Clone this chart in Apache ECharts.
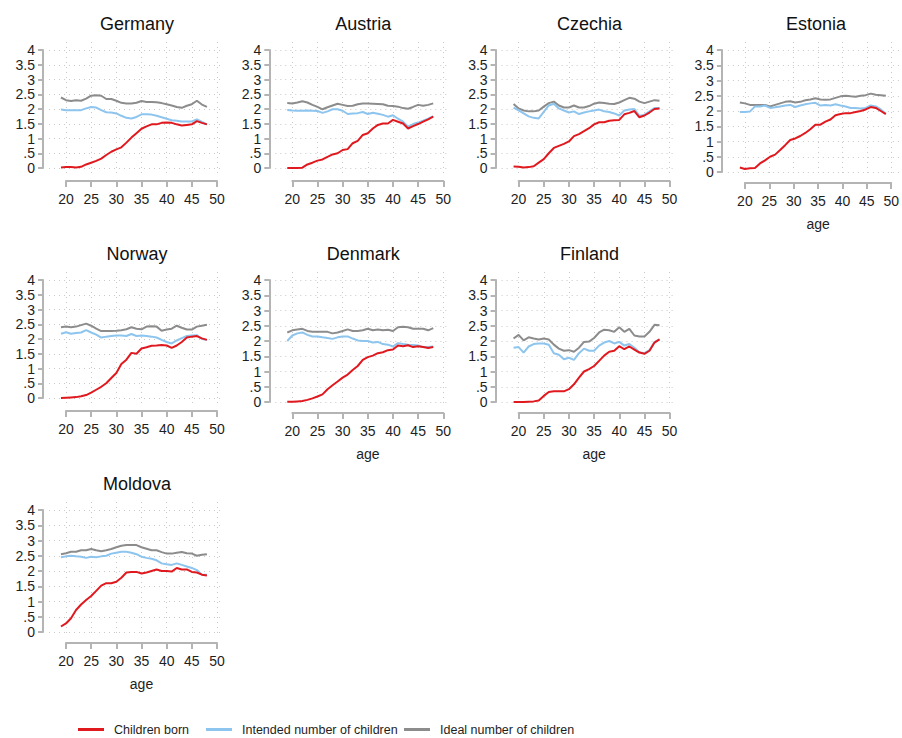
<!DOCTYPE html>
<html><head><meta charset="utf-8">
<script src="https://cdn.jsdelivr.net/npm/echarts@6/dist/echarts.min.js"></script>
<style>html,body{margin:0;padding:0;background:#fff}#chart{width:902px;height:738px}</style>
</head><body><div id="chart"></div>
<script>
// ---------------- data ----------------
const ages = [19,20,21,22,23,24,25,26,27,28,29,30,31,32,33,34,35,36,37,38,39,40,41,42,43,44,45,46,47,48];
const xTickValues = [20,25,30,35,40,45,50];
const yTickLabels = ['0','.5','1','1.5','2','2.5','3','3.5','4'];
const countries = ['Germany','Austria','Czechia','Estonia','Norway','Denmark','Finland','Moldova'];
const seriesNames = ['Children born','Intended number of children','Ideal number of children'];
const xTitle = 'age';

const germanyBorn     = [0.02,0.03,0.03,0.02,0.04,0.12,0.18,0.24,0.32,0.44,0.55,0.63,0.70,0.86,1.03,1.18,1.33,1.41,1.48,1.48,1.53,1.54,1.53,1.48,1.44,1.46,1.48,1.59,1.53,1.48];
const germanyIntended = [1.98,1.96,1.96,1.96,1.96,2.02,2.07,2.05,1.96,1.89,1.88,1.85,1.77,1.70,1.68,1.73,1.82,1.82,1.81,1.77,1.72,1.67,1.62,1.60,1.58,1.58,1.58,1.65,1.56,1.48];
const germanyIdeal    = [2.39,2.30,2.27,2.30,2.28,2.35,2.45,2.47,2.45,2.34,2.34,2.28,2.21,2.19,2.19,2.21,2.27,2.24,2.24,2.23,2.20,2.16,2.12,2.07,2.04,2.11,2.16,2.28,2.15,2.07];

const austriaBorn     = [0.00,0.00,0.00,0.01,0.12,0.18,0.25,0.29,0.38,0.46,0.50,0.61,0.64,0.84,0.92,1.12,1.18,1.34,1.46,1.51,1.51,1.63,1.57,1.51,1.34,1.42,1.49,1.57,1.65,1.74];
const austriaIntended = [1.97,1.95,1.94,1.94,1.95,1.94,1.93,1.87,1.92,1.99,1.99,1.94,1.83,1.85,1.86,1.90,1.83,1.87,1.84,1.80,1.74,1.79,1.67,1.57,1.40,1.49,1.54,1.60,1.67,1.76];
const austriaIdeal    = [2.20,2.19,2.22,2.26,2.22,2.14,2.07,1.99,2.06,2.12,2.18,2.14,2.10,2.11,2.16,2.19,2.19,2.18,2.17,2.16,2.11,2.10,2.08,2.03,2.01,2.07,2.14,2.11,2.14,2.19];

const czechiaBorn     = [0.05,0.04,0.02,0.03,0.06,0.18,0.30,0.50,0.68,0.75,0.82,0.90,1.08,1.15,1.25,1.35,1.48,1.55,1.55,1.60,1.62,1.63,1.82,1.87,1.93,1.72,1.78,1.88,2.00,2.02];
const czechiaIntended = [2.05,1.95,1.85,1.75,1.70,1.68,1.90,2.12,2.18,2.02,1.95,1.88,1.92,1.83,1.88,1.92,1.95,1.98,1.92,1.90,1.85,1.78,1.95,1.98,2.00,1.77,1.80,1.92,2.03,2.03];
const czechiaIdeal    = [2.17,2.02,1.95,1.92,1.92,1.95,2.08,2.20,2.25,2.12,2.05,2.05,2.12,2.05,2.05,2.10,2.18,2.22,2.20,2.18,2.17,2.22,2.30,2.38,2.35,2.25,2.20,2.25,2.30,2.28];

const estoniaBorn     = [0.15,0.10,0.12,0.13,0.28,0.38,0.50,0.57,0.72,0.88,1.05,1.10,1.18,1.28,1.40,1.55,1.55,1.65,1.72,1.86,1.90,1.93,1.93,1.97,2.00,2.05,2.13,2.10,2.00,1.90];
const estoniaIntended = [1.97,1.97,1.98,2.15,2.15,2.18,2.10,2.12,2.15,2.18,2.20,2.13,2.18,2.22,2.25,2.27,2.18,2.20,2.18,2.22,2.18,2.15,2.10,2.10,2.08,2.10,2.18,2.15,2.05,1.92];
const estoniaIdeal    = [2.28,2.25,2.20,2.20,2.20,2.20,2.15,2.20,2.25,2.30,2.32,2.28,2.30,2.35,2.38,2.42,2.38,2.37,2.38,2.43,2.48,2.50,2.48,2.47,2.50,2.52,2.57,2.53,2.52,2.50];

const norwayBorn      = [0.00,0.01,0.02,0.03,0.06,0.10,0.18,0.28,0.38,0.50,0.68,0.85,1.15,1.30,1.53,1.50,1.68,1.72,1.77,1.78,1.80,1.78,1.70,1.78,1.90,2.05,2.08,2.10,2.02,1.97];
const norwayIntended  = [2.18,2.23,2.18,2.20,2.22,2.30,2.22,2.15,2.05,2.08,2.10,2.12,2.12,2.10,2.17,2.10,2.12,2.10,2.08,2.05,1.97,1.90,1.85,1.95,2.03,2.10,2.12,2.13,2.00,1.97];
const norwayIdeal     = [2.40,2.42,2.40,2.42,2.47,2.52,2.45,2.35,2.27,2.27,2.27,2.28,2.30,2.33,2.40,2.35,2.33,2.42,2.43,2.42,2.28,2.32,2.35,2.45,2.38,2.32,2.32,2.42,2.45,2.48];

const denmarkBorn     = [0.01,0.01,0.02,0.03,0.07,0.12,0.18,0.25,0.42,0.55,0.67,0.80,0.90,1.05,1.18,1.38,1.47,1.52,1.60,1.63,1.70,1.72,1.85,1.83,1.86,1.80,1.83,1.80,1.77,1.80];
const denmarkIntended = [2.00,2.18,2.25,2.28,2.20,2.15,2.15,2.12,2.10,2.07,2.12,2.15,2.15,2.08,2.02,2.00,2.00,1.95,1.97,1.90,1.88,1.82,1.93,1.90,1.88,1.87,1.85,1.80,1.80,1.82];
const denmarkIdeal    = [2.28,2.35,2.38,2.40,2.33,2.30,2.30,2.30,2.30,2.25,2.28,2.33,2.38,2.33,2.33,2.35,2.40,2.35,2.38,2.35,2.37,2.33,2.45,2.47,2.45,2.40,2.40,2.40,2.35,2.42];

const finlandBorn     = [0.00,0.00,0.00,0.01,0.02,0.05,0.20,0.33,0.35,0.35,0.35,0.42,0.58,0.80,1.00,1.08,1.18,1.35,1.52,1.65,1.68,1.83,1.73,1.82,1.72,1.62,1.58,1.68,1.95,2.05];
const finlandIntended = [1.78,1.80,1.62,1.82,1.90,1.92,1.92,1.88,1.60,1.55,1.40,1.45,1.38,1.60,1.75,1.68,1.68,1.85,1.95,2.00,1.92,1.97,1.85,1.90,1.78,1.63,1.60,1.70,1.97,2.05];
const finlandIdeal    = [2.08,2.20,2.02,2.12,2.08,2.05,2.08,2.05,1.88,1.75,1.68,1.70,1.65,1.78,1.97,1.98,2.10,2.28,2.37,2.35,2.30,2.45,2.30,2.40,2.18,2.15,2.15,2.30,2.53,2.52];

const moldovaBorn     = [0.18,0.28,0.45,0.72,0.90,1.05,1.18,1.35,1.52,1.60,1.60,1.65,1.78,1.95,1.97,1.97,1.92,1.95,2.00,2.05,2.00,2.00,1.98,2.10,2.05,2.05,1.97,1.95,1.88,1.85];
const moldovaIntended = [2.45,2.48,2.50,2.48,2.47,2.43,2.47,2.45,2.48,2.50,2.57,2.60,2.63,2.63,2.60,2.55,2.47,2.43,2.40,2.35,2.25,2.22,2.20,2.25,2.20,2.15,2.10,2.03,1.88,1.88];
const moldovaIdeal    = [2.55,2.58,2.63,2.63,2.68,2.68,2.72,2.68,2.65,2.68,2.72,2.78,2.83,2.85,2.85,2.85,2.78,2.73,2.68,2.68,2.62,2.57,2.57,2.60,2.62,2.58,2.57,2.50,2.53,2.55];

const panelValues = {
  Germany: [germanyBorn, germanyIntended, germanyIdeal],
  Austria: [austriaBorn, austriaIntended, austriaIdeal],
  Czechia: [czechiaBorn, czechiaIntended, czechiaIdeal],
  Estonia: [estoniaBorn, estoniaIntended, estoniaIdeal],
  Norway:  [norwayBorn, norwayIntended, norwayIdeal],
  Denmark: [denmarkBorn, denmarkIntended, denmarkIdeal],
  Finland: [finlandBorn, finlandIntended, finlandIdeal],
  Moldova: [moldovaBorn, moldovaIntended, moldovaIdeal]
};
const panelsWithXTitle = ['Estonia','Denmark','Finland','Moldova'];

// ---------------- styling / layout ----------------
const FONT = "'Liberation Sans', Arial, Helvetica, sans-serif";
const lineColors = ['#e0191f', '#8dc5ee', '#8c8c8c'];
const axisColor = '#b4b4b4';
const gridColor = '#c9c9c9';
const textColor = '#1e1e1e';
const legendLefts = [78, 206, 404];

const grid = [], xAxis = [], yAxis = [], series = [], graphic = [];
const sx = 151 / 30;

countries.forEach((name, i) => {
  const col = i < 4 ? i : (i < 7 ? i - 4 : 0);
  const row = i < 4 ? 0 : (i < 7 ? 1 : 2);
  const hasX = panelsWithXTitle.includes(name);
  const top = [0, 230, 460][row];
  const x20 = 66 + 226.3 * col;
  const x50 = x20 + 151;
  const y4 = top + 50;
  const y0 = top + (hasX ? 172 : 168);
  const axisY = top + (hasX ? 183 : 181);
  const vTop = top + 42, vBot = y0 + 5;
  const hLeft = x20 - 17, hRight = x50 + 3;

  // data grid with horizontal grid lines and y axis
  const gH = grid.length;
  grid.push({ left: hLeft, top: y4, width: hRight - hLeft, height: y0 - y4 });
  xAxis.push({ gridIndex: gH, type: 'value', min: 20 - 17 / sx, max: 50 + 3 / sx, show: false });
  yAxis.push({
    gridIndex: gH, type: 'value', min: 0, max: 4, interval: 0.5, offset: 6,
    axisLine: { show: true, onZero: false, lineStyle: { color: axisColor, width: 2 } },
    axisTick: { show: true, length: 5, lineStyle: { color: axisColor, width: 2 } },
    axisLabel: { margin: 8, fontSize: 14, color: textColor, fontFamily: FONT,
      formatter: v => yTickLabels[Math.round(v * 2)] },
    splitLine: { show: true, lineStyle: { type: [1, 4], color: gridColor, width: 1 } }
  });

  // grid for vertical grid lines and x axis
  const gV = grid.length;
  grid.push({ left: x20, top: vTop, width: x50 - x20, height: vBot - vTop });
  xAxis.push({
    gridIndex: gV, type: 'value', min: xTickValues[0], max: xTickValues[xTickValues.length - 1], interval: 5,
    position: 'bottom', offset: axisY - vBot,
    axisLine: { show: true, onZero: false, lineStyle: { color: axisColor, width: 2 } },
    axisTick: { show: true, length: 6, lineStyle: { color: axisColor, width: 2 } },
    axisLabel: { margin: 11, fontSize: 14, color: textColor, fontFamily: FONT },
    splitLine: { show: true, lineStyle: { type: [1, 4], color: gridColor, width: 1 } },
    name: hasX ? xTitle : '', nameLocation: 'middle', nameGap: 34,
    nameTextStyle: { fontSize: 14, color: textColor, fontFamily: FONT }
  });
  yAxis.push({ gridIndex: gV, type: 'value', min: 0, max: 1, show: false });

  const vals = panelValues[name];
  seriesNames.forEach((sn, k) => {
    series.push({
      name: sn, type: 'line', xAxisIndex: gH, yAxisIndex: gH,
      data: ages.map((a, j) => [a, vals[k][j]]),
      symbol: 'none', showSymbol: false, smooth: false,
      lineStyle: { width: 2, color: lineColors[k] },
      itemStyle: { color: lineColors[k] },
      z: 5 - k, animation: false
    });
  });

  graphic.push({
    type: 'text', x: x20 + 71, y: top + 24,
    style: { text: name, fill: '#111', font: '18px ' + FONT,
      align: 'center', verticalAlign: 'middle', textAlign: 'center', textVerticalAlign: 'middle' }
  });
});

const legend = seriesNames.map((sn, k) => ({
  data: [sn], left: legendLefts[k], top: 723, padding: 0,
  icon: 'rect', itemWidth: 26, itemHeight: 3,
  textStyle: { fontSize: 12.5, color: textColor, fontFamily: FONT, padding: [0, 0, 0, 5] }
}));

const chart = echarts.init(document.getElementById('chart'), null, { renderer: 'svg', width: 902, height: 738 });
chart.setOption({
  backgroundColor: '#ffffff',
  animation: false,
  grid, xAxis, yAxis, series, graphic, legend
});
</script>
</body></html>
